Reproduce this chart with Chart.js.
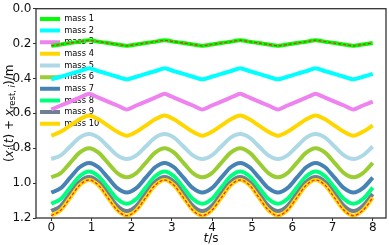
<!DOCTYPE html>
<html>
<head>
<meta charset="utf-8">
<script src="https://cdn.jsdelivr.net/npm/chart.js@4.4.0/dist/chart.umd.min.js"></script>
<style>
  html, body { margin: 0; padding: 0; background: #fff; }
</style>
</head>
<body>
<canvas id="massChart" width="389" height="245"></canvas>
<script>
// sample times in seconds (1/8 of an oscillation period apart)
const times = [0, 0.235, 0.47, 0.705, 0.94, 1.175, 1.41, 1.645,
  1.88, 2.115, 2.35, 2.585, 2.82, 3.055, 3.29, 3.525,
  3.76, 3.995, 4.23, 4.465, 4.7, 4.935, 5.17, 5.405,
  5.64, 5.875, 6.11, 6.345, 6.58, 6.815, 7.05, 7.285,
  7.52, 7.755, 8.0];

// position of each mass (m)
const mass1 = [0.213, 0.205, 0.197, 0.189, 0.181, 0.189, 0.197, 0.205,
  0.213, 0.205, 0.197, 0.189, 0.181, 0.189, 0.197, 0.205,
  0.213, 0.205, 0.197, 0.189, 0.181, 0.189, 0.197, 0.205,
  0.213, 0.205, 0.197, 0.189, 0.181, 0.189, 0.197, 0.205,
  0.213, 0.205, 0.197];
const mass2 = [0.405, 0.390, 0.374, 0.358, 0.342, 0.358, 0.374, 0.390,
  0.405, 0.390, 0.374, 0.358, 0.342, 0.358, 0.374, 0.390,
  0.405, 0.390, 0.374, 0.358, 0.342, 0.358, 0.374, 0.390,
  0.405, 0.390, 0.374, 0.358, 0.342, 0.358, 0.374, 0.390,
  0.405, 0.390, 0.374];
const mass3 = [0.578, 0.555, 0.533, 0.510, 0.487, 0.510, 0.533, 0.555,
  0.578, 0.555, 0.533, 0.510, 0.487, 0.510, 0.533, 0.555,
  0.578, 0.555, 0.533, 0.510, 0.487, 0.510, 0.533, 0.555,
  0.578, 0.555, 0.533, 0.510, 0.487, 0.510, 0.533, 0.555,
  0.578, 0.555, 0.533];
const mass4 = [0.728, 0.706, 0.670, 0.634, 0.612, 0.634, 0.670, 0.706,
  0.728, 0.706, 0.670, 0.634, 0.612, 0.634, 0.670, 0.706,
  0.728, 0.706, 0.670, 0.634, 0.612, 0.634, 0.670, 0.706,
  0.728, 0.706, 0.670, 0.634, 0.612, 0.634, 0.670, 0.706,
  0.728, 0.706, 0.670];
const mass5 = [0.862, 0.841, 0.790, 0.739, 0.718, 0.739, 0.790, 0.841,
  0.862, 0.841, 0.790, 0.739, 0.718, 0.739, 0.790, 0.841,
  0.862, 0.841, 0.790, 0.739, 0.718, 0.739, 0.790, 0.841,
  0.862, 0.841, 0.790, 0.739, 0.718, 0.739, 0.790, 0.841,
  0.862, 0.841, 0.790];
const mass6 = [0.967, 0.943, 0.884, 0.825, 0.800, 0.825, 0.884, 0.943,
  0.967, 0.943, 0.884, 0.825, 0.800, 0.825, 0.884, 0.943,
  0.967, 0.943, 0.884, 0.825, 0.800, 0.825, 0.884, 0.943,
  0.967, 0.943, 0.884, 0.825, 0.800, 0.825, 0.884, 0.943,
  0.967, 0.943, 0.884];
const mass7 = [1.054, 1.029, 0.969, 0.909, 0.884, 0.909, 0.969, 1.029,
  1.054, 1.029, 0.969, 0.909, 0.884, 0.909, 0.969, 1.029,
  1.054, 1.029, 0.969, 0.909, 0.884, 0.909, 0.969, 1.029,
  1.054, 1.029, 0.969, 0.909, 0.884, 0.909, 0.969, 1.029,
  1.054, 1.029, 0.969];
const mass8 = [1.118, 1.091, 1.026, 0.961, 0.933, 0.961, 1.026, 1.091,
  1.118, 1.091, 1.026, 0.961, 0.933, 0.961, 1.026, 1.091,
  1.118, 1.091, 1.026, 0.961, 0.933, 0.961, 1.026, 1.091,
  1.118, 1.091, 1.026, 0.961, 0.933, 0.961, 1.026, 1.091,
  1.118, 1.091, 1.026];
const mass9 = [1.160, 1.131, 1.062, 0.993, 0.965, 0.993, 1.062, 1.131,
  1.160, 1.131, 1.062, 0.993, 0.965, 0.993, 1.062, 1.131,
  1.160, 1.131, 1.062, 0.993, 0.965, 0.993, 1.062, 1.131,
  1.160, 1.131, 1.062, 0.993, 0.965, 0.993, 1.062, 1.131,
  1.160, 1.131, 1.062];
const mass10 = [1.186, 1.156, 1.084, 1.012, 0.982, 1.012, 1.084, 1.156,
  1.186, 1.156, 1.084, 1.012, 0.982, 1.012, 1.084, 1.156,
  1.186, 1.156, 1.084, 1.012, 0.982, 1.012, 1.084, 1.156,
  1.186, 1.156, 1.084, 1.012, 0.982, 1.012, 1.084, 1.156,
  1.186, 1.156, 1.084];

const massSeries = [mass1, mass2, mass3, mass4, mass5, mass6, mass7, mass8, mass9, mass10];
const massLabels = ['mass 1', 'mass 2', 'mass 3', 'mass 4', 'mass 5',
  'mass 6', 'mass 7', 'mass 8', 'mass 9', 'mass 10'];
const massColors = ['#00ff00', '#00ffff', '#ee82ee', '#ffd700', '#add8e6',
  '#9acd32', '#4682b4', '#00ff7f', '#708090', '#ffd700'];
const massTension = [0.15, 0.15, 0.15, 0.3, 0, 0, 0, 0, 0, 0];

const FONT = '"DejaVu Sans", sans-serif';

function toPoints(values) {
  return values.map((v, i) => ({ x: times[i], y: v }));
}

// lower "order" is drawn on top, so later masses cover earlier ones
const datasets = massSeries.map((values, i) => ({
  label: massLabels[i],
  data: toPoints(values),
  order: 20 - i,
  borderColor: massColors[i],
  backgroundColor: massColors[i],
  borderWidth: 4,
  pointRadius: 0,
  tension: massTension[i],
  cubicInterpolationMode: massTension[i] === 0 ? 'monotone' : 'default',
  fill: false
}));

// thin red dashed overlays on the first and last mass
[mass1, mass10].forEach((values, k) => {
  datasets.push({
    label: '',
    data: toPoints(values),
    order: k,
    borderColor: '#e8302a',
    borderWidth: 1.3,
    borderDash: [3, 2],
    pointRadius: 0,
    tension: values === mass1 ? 0.15 : 0,
    cubicInterpolationMode: values === mass1 ? 'default' : 'monotone',
    fill: false
  });
});

// axis titles with math-style italics and subscripts
const yTitleParts = [
  { t: '(', style: '', size: 12, dy: 0 },
  { t: 'x', style: 'italic ', size: 12, dy: 0 },
  { t: 'i', style: 'italic ', size: 8.5, dy: 2.6 },
  { t: '(', style: '', size: 12, dy: 0 },
  { t: 't', style: 'italic ', size: 12, dy: 0 },
  { t: ') + ', style: '', size: 12, dy: 0 },
  { t: 'x', style: 'italic ', size: 12, dy: 0 },
  { t: 'rest, ', style: '', size: 8.5, dy: 2.6 },
  { t: 'i', style: 'italic ', size: 8.5, dy: 2.6 },
  { t: ')/m', style: '', size: 12, dy: 0 }
];
const xTitleParts = [
  { t: 't', style: 'italic ', size: 12, dy: 0 },
  { t: '/s', style: '', size: 12, dy: 0 }
];

function drawParts(ctx, parts, cx, baseY) {
  let total = 0;
  parts.forEach(p => {
    ctx.font = p.style + p.size + 'px ' + FONT;
    p.w = ctx.measureText(p.t).width;
    total += p.w;
  });
  let x = cx - total / 2;
  ctx.textBaseline = 'alphabetic';
  ctx.textAlign = 'left';
  parts.forEach(p => {
    ctx.font = p.style + p.size + 'px ' + FONT;
    ctx.fillText(p.t, x, baseY + p.dy);
    x += p.w;
  });
}

const axisTitles = {
  id: 'axisTitles',
  afterDraw(chart) {
    const { ctx, chartArea: a } = chart;
    ctx.save();
    ctx.fillStyle = '#111';
    drawParts(ctx, xTitleParts, (a.left + a.right) / 2, 241.5);
    ctx.translate(12.5, (a.top + a.bottom) / 2);
    ctx.rotate(-Math.PI / 2);
    drawParts(ctx, yTitleParts, 0, 0);
    ctx.restore();
  }
};

const frame = {
  id: 'frame',
  afterDatasetsDraw(chart) {
    const { ctx, chartArea: a } = chart;
    ctx.save();
    ctx.strokeStyle = '#333';
    ctx.lineWidth = 1.3;
    ctx.strokeRect(a.left, a.top, a.width, a.height);
    ctx.restore();
  }
};

// put the legend column at the upper left inside the plot
const legendPlacement = {
  id: 'legendPlacement',
  beforeDraw(chart) {
    const a = chart.chartArea;
    chart.legend.left = a.left + 0.7;
    chart.legend.top = a.top + 2.8;
  }
};

new Chart(document.getElementById('massChart'), {
  type: 'line',
  data: { datasets: datasets },
  options: {
    responsive: false,
    animation: false,
    devicePixelRatio: 1,
    layout: { padding: { top: 4, right: 3, left: 0, bottom: 0 } },
    scales: {
      x: {
        type: 'linear',
        min: -0.38,
        max: 8.33,
        afterFit: scale => { scale.height = 27; },
        ticks: {
          stepSize: 1,
          includeBounds: false,
          padding: 0,
          color: '#111',
          font: { family: FONT, size: 12 },
          maxRotation: 0
        },
        grid: { drawOnChartArea: false, tickLength: 3, tickColor: '#333' },
        border: { display: false }
      },
      y: {
        type: 'linear',
        reverse: true,
        min: 0,
        max: 1.2,
        afterFit: scale => { scale.width = 36; },
        ticks: {
          stepSize: 0.2,
          padding: 1.5,
          color: '#111',
          font: { family: FONT, size: 12 },
          callback: v => v.toFixed(1)
        },
        grid: { drawOnChartArea: false, tickLength: 3, tickColor: '#333' },
        border: { display: false }
      }
    },
    plugins: {
      legend: {
        position: 'chartArea',
        align: 'start',
        labels: {
          boxWidth: 20,
          boxHeight: 4,
          padding: 3.33,
          color: '#111',
          font: { family: FONT, size: 8.3 },
          generateLabels: chart => chart.data.datasets.slice(0, massLabels.length).map((ds, i) => ({
            text: ds.label,
            fillStyle: ds.borderColor,
            strokeStyle: ds.borderColor,
            lineWidth: 0,
            hidden: false,
            datasetIndex: i
          }))
        }
      },
      tooltip: { enabled: false }
    }
  },
  plugins: [legendPlacement, frame, axisTitles]
});
</script>
</body>
</html>
